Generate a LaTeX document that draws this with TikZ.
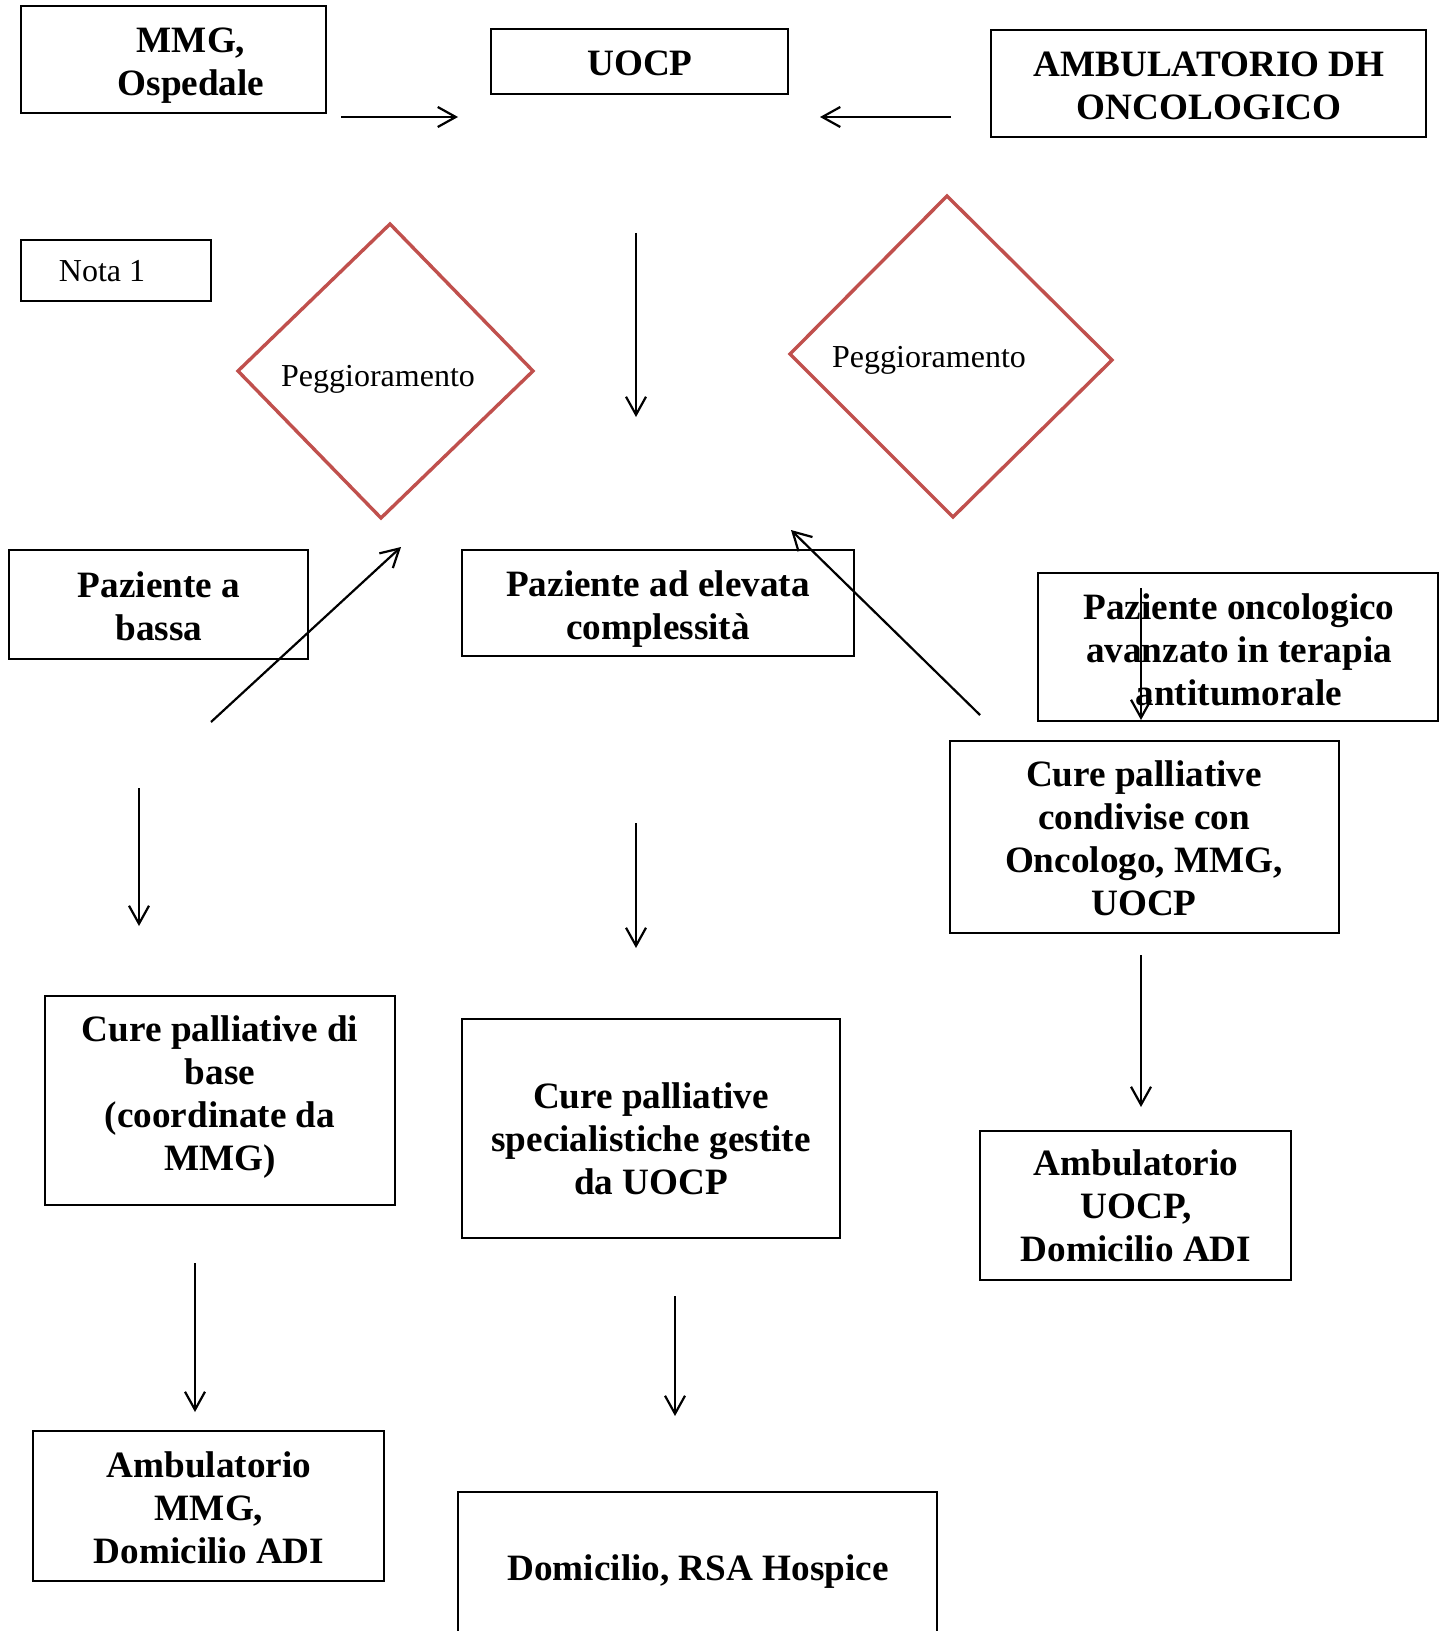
\documentclass[tikz,border=0pt]{standalone}
\usepackage{fontspec}
\setmainfont{Liberation Serif}
\usetikzlibrary{arrows.meta,fit}
\definecolor{dred}{HTML}{C0504D}
\tikzset{
  box/.style={draw=black, line width=0.9pt, inner sep=0pt, rectangle},
  txt/.style={align=center, inner sep=0pt, font=\fontsize{18.6}{21.5}\selectfont\bfseries},
  small/.style={align=center, inner sep=0pt, font=\fontsize{16}{19}\selectfont},
  dia/.style={draw=dred, line width=1.7pt, line join=miter},
  arr/.style={line width=1.1pt, -{Straight Barb[length=9pt,width=10pt,line width=1.1pt]}}
}
\begin{document}
\begin{tikzpicture}[x=0.5pt,y=-0.5pt]
\useasboundingbox (0,0) rectangle (1447,1631);
\clip (0,0) rectangle (1447,1631);
% boxes
\node[box, fit={(21,6)(326,113)}] (mmg) {};
\node[txt] (mmgt) at (191,66) {MMG,\\Ospedale};
\node[box, fit={(491,29)(788,94)}] (uocp) {};
\node[txt] (uocpt) at (640,63) {UOCP};
\node[box, fit={(991,30)(1426,137)}] (amb) {};
\node[txt] (ambt) at (1209,86) {AMBULATORIO DH\\ONCOLOGICO};
\node[box, fit={(21,240)(211,301)}] (nota) {};
\node[small] (notat) at (102,271) {Nota 1};
% diamonds
\draw[dia] (390,224) -- (533,371) -- (381,518) -- (238,371) -- cycle;
\node[small] (peg1) at (378,379) {Peggioramento};
\draw[dia] (947,196) -- (1112,360) -- (953,517) -- (790,354) -- cycle;
\node[small] (peg2) at (929,360) {Peggioramento};
% second row
\node[box, fit={(9,550)(308,659)}] (bassa) {};
\node[txt] (bassat) at (159,606) {Paziente a\\bassa};
\node[box, fit={(462,550)(854,656)}] (elev) {};
\node[txt] (elevt) at (658,609) {Paziente ad elevata\\complessità};
\node[box, fit={(1038,573)(1438,721)}] (onco) {};
\node[txt] (oncot) at (1239,650) {Paziente oncologico\\avanzato in terapia\\antitumorale};
\node[box, fit={(950,741)(1339,933)}] (cond) {};
\node[txt] (condt) at (1144,838) {Cure palliative\\condivise con\\Oncologo, MMG,\\UOCP};
% third row
\node[box, fit={(45,996)(395,1205)}] (base) {};
\node[txt] (baset) at (220,1097) {Cure palliative di\\base\\(coordinate da\\MMG)};
\node[box, fit={(462,1019)(840,1238)}] (spec) {};
\node[txt] (spect) at (651,1139) {Cure palliative\\specialistiche gestite\\da UOCP};
\node[box, fit={(980,1131)(1291,1280)}] (ambu) {};
\node[txt] (ambut) at (1136,1206) {Ambulatorio\\UOCP,\\Domicilio ADI};
% bottom row
\node[box, fit={(33,1431)(384,1581)}] (ammg) {};
\node[txt] (ammgt) at (209,1508) {Ambulatorio\\MMG,\\Domicilio ADI};
\node[box, fit={(458,1492)(937,1720)}] (dom) {};
\node[txt] (domt) at (698,1572) {Domicilio, RSA Hospice};
% arrow end points
\coordinate (a1s) at (341,117); \coordinate (a1e) at (458,117);
\coordinate (a2s) at (951,117); \coordinate (a2e) at (820,117);
\coordinate (a3s) at (636,233); \coordinate (a3e) at (636,417);
\coordinate (a4s) at (211,722); \coordinate (a4e) at (401,547);
\coordinate (a5s) at (980,715); \coordinate (a5e) at (791,530);
\coordinate (a6s) at (1141,588); \coordinate (a6e) at (1141,720);
\coordinate (a7s) at (139,788); \coordinate (a7e) at (139,926);
\coordinate (a8s) at (636,823); \coordinate (a8e) at (636,948);
\coordinate (a9s) at (1141,955); \coordinate (a9e) at (1141,1107);
\coordinate (a10s) at (195,1263); \coordinate (a10e) at (195,1412);
\coordinate (a11s) at (675,1296); \coordinate (a11e) at (675,1416);
\foreach \i in {1,...,11} { \draw[arr] (a\i s) -- (a\i e); }
\end{tikzpicture}
\end{document}
